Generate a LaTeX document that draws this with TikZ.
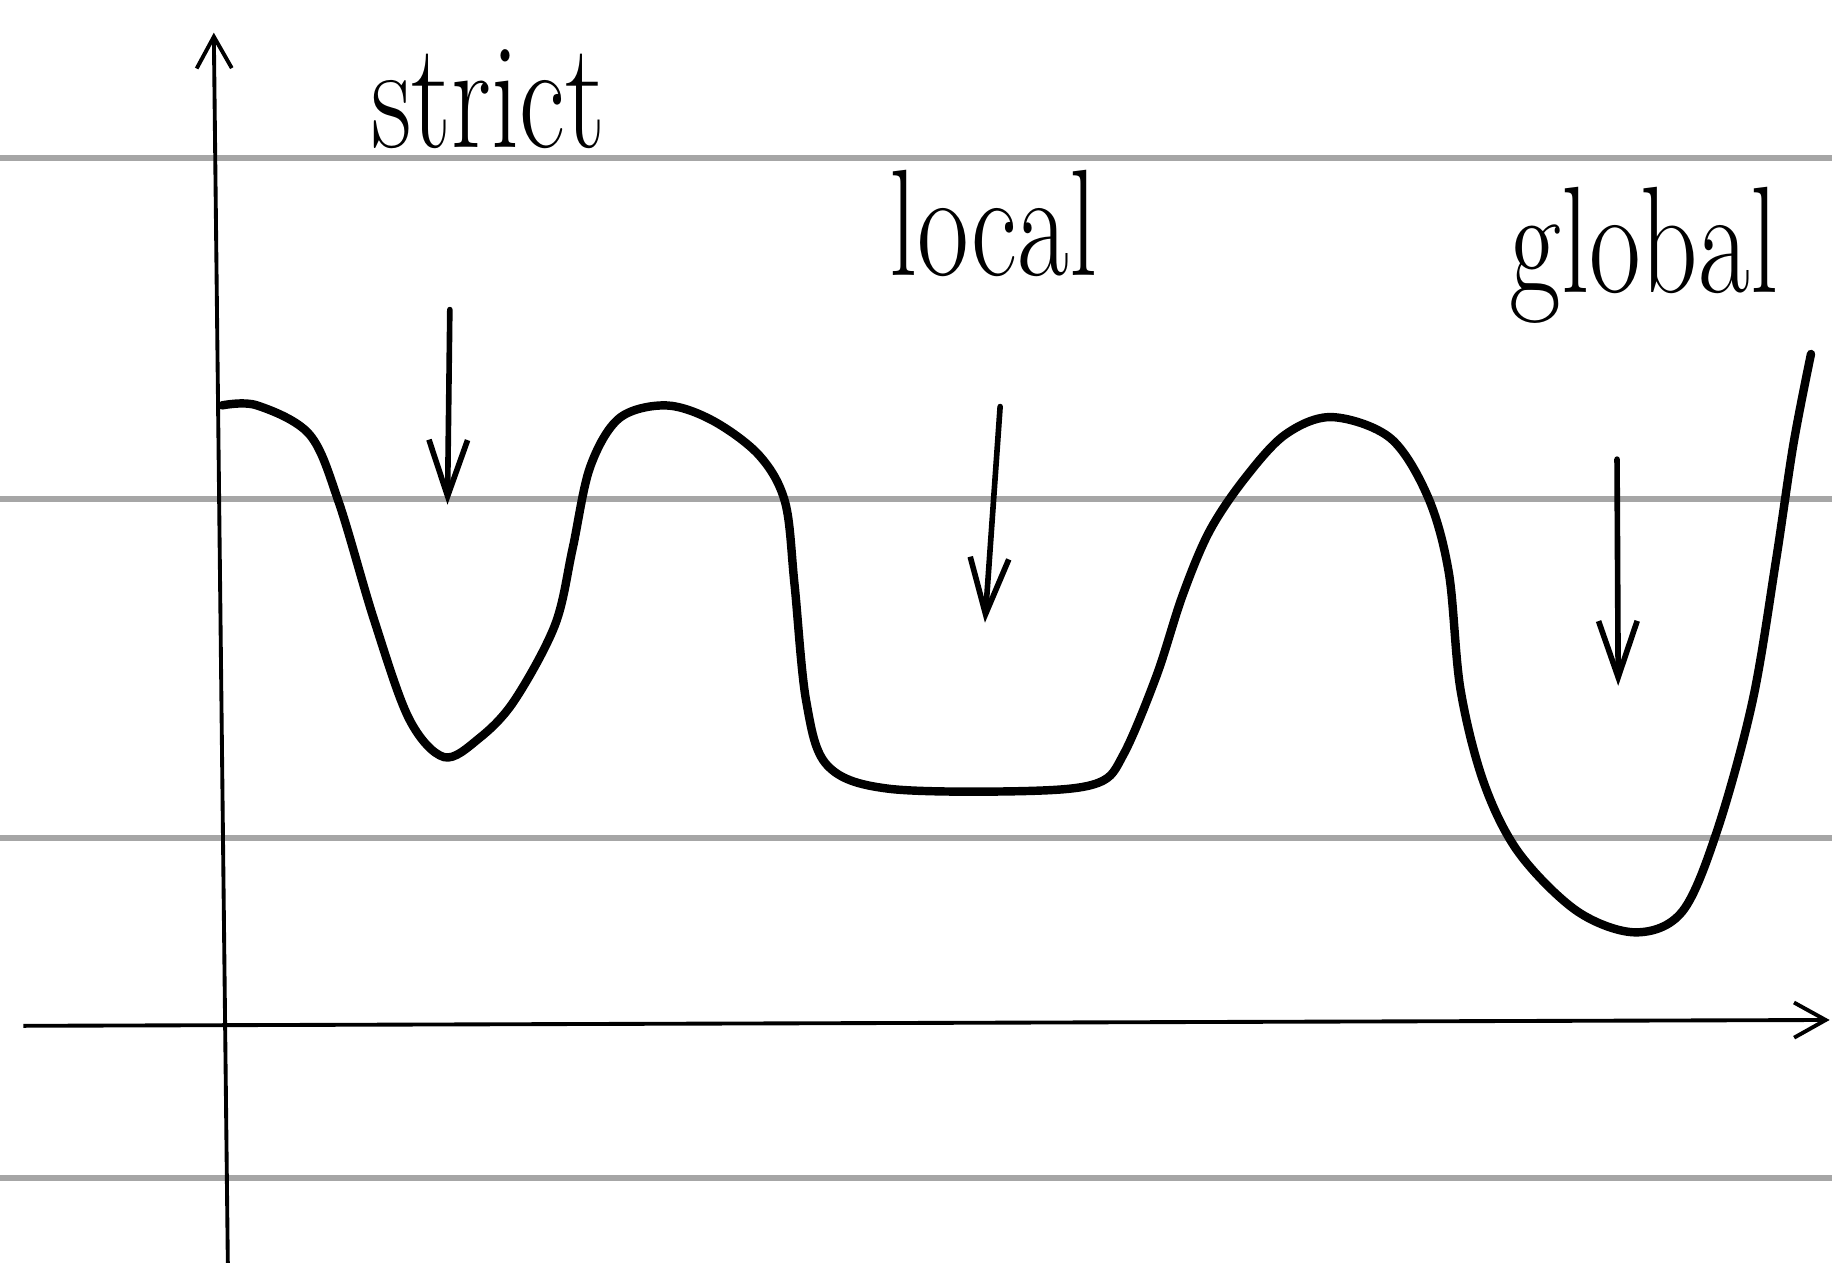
\documentclass[tikz,border=0pt]{standalone}
\usetikzlibrary{arrows.meta}
\begin{document}
\begin{tikzpicture}[x=0.011684cm,y=-0.011684cm,
  guide/.style={draw=black!35,line width=1.6pt},
  axis/.style={draw=black,line width=1.1pt},
  curve/.style={draw=black,line width=2.4pt,line cap=round,line join=round},
  pointer/.style={draw=black,line width=1.6pt,line cap=round,-{Straight Barb[length=16pt,width=11pt,line width=1.6pt]}},
  lbl/.style={font=\fontsize{32}{36}\selectfont,anchor=base,yscale=1.35,inner sep=0pt}]
\useasboundingbox (0,0) rectangle (1568,1081);
\fill[white] (0,0) rectangle (1568,1081);
% guide lines
\foreach \yy in {135,427,717,1008} \draw[guide] (0,\yy) -- (1568,\yy);
% axes
\coordinate (ybot) at (195,1081);
\coordinate (ytop) at (183,28);
\coordinate (xl) at (20,878);
\coordinate (xr) at (1566,873);
\draw[axis,-{Straight Barb[length=9pt,width=10pt,line width=1.1pt]}] (ybot) -- (ytop);
\draw[axis,-{Straight Barb[length=9pt,width=10pt,line width=1.1pt]}] (xl) -- (xr);
% curve
\draw[curve] plot[smooth,tension=0.55] coordinates {
 (190,347) (220,347) (265,372) (290,430) (320,530) (350,615) (380,648) (410,632) (440,600)
 (475,535) (490,470) (505,400) (530,358) (570,347) (610,360) (650,390) (672,430)
 (680,500) (690,600) (708,655) (760,675) (880,677) (940,670) (962,645) (990,578)
 (1012,510) (1035,455) (1065,410) (1100,372) (1140,357) (1190,375) (1222,425)
 (1240,490) (1250,590) (1270,670) (1300,730) (1350,780) (1400,798) (1440,780)
 (1470,710) (1500,600) (1520,480) (1535,380) (1550,303)};
% labels
\node[lbl] (strict) at (418,126) {strict};
\node[lbl] (local) at (850,236) {local};
\node[lbl] (global) at (1407,250) {global};
% pointers
\coordinate (s1) at (385,265); \coordinate (s2) at (383,432);
\coordinate (l1) at (856,348); \coordinate (l2) at (843,533);
\coordinate (g1) at (1384,393); \coordinate (g2) at (1385,587);
\draw[pointer] (s1) -- (s2);
\draw[pointer] (l1) -- (l2);
\draw[pointer] (g1) -- (g2);
\end{tikzpicture}
\end{document}
